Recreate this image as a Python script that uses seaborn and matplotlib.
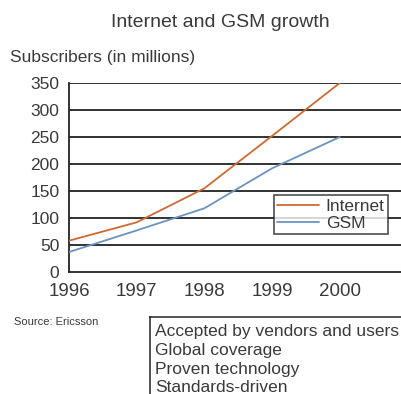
import matplotlib
matplotlib.use("Agg")
import matplotlib.pyplot as plt
from matplotlib.lines import Line2D
import pandas as pd
import seaborn as sns

years = [1996, 1997, 1998, 1999, 2000]
internet = [58, 92, 155, 252, 350]
gsm = [37, 77, 118, 192, 250]
series_names = ["Internet", "GSM"]
y_ticks = [0, 50, 100, 150, 200, 250, 300, 350]
notes = ["Accepted by vendors and users", "Global coverage",
         "Proven technology", "Standards-driven"]

df = pd.DataFrame({
    "year": years * 2,
    "subscribers": internet + gsm,
    "series": [series_names[0]] * len(years) + [series_names[1]] * len(years),
})

sns.set_theme(style="white")
plt.rcParams["font.family"] = ["Liberation Sans", "DejaVu Sans"]
text_color = "#3a3a3a"

fig = plt.figure(figsize=(4.02, 3.94), dpi=100)
ax = fig.add_axes([0.1716, 0.3096, 0.8284, 0.4797])

palette = {"Internet": "#cc6a35", "GSM": "#6a93c0"}
sns.lineplot(data=df, x="year", y="subscribers", hue="series",
             palette=palette, linewidth=1.3, ax=ax, legend=False, zorder=3)

ax.set_xlim(1996, 2000.92)
ax.set_ylim(0, 350)
ax.set_yticks(y_ticks)
ax.set_xticks(years)
ax.set_xticklabels([str(y) for y in years])
for y in y_ticks[1:]:
    ax.axhline(y, color="#222222", linewidth=1.3, zorder=1)

for side in ["top", "right"]:
    ax.spines[side].set_visible(False)
for side in ["left", "bottom"]:
    ax.spines[side].set_color("#222222")
    ax.spines[side].set_linewidth(1.3)
ax.tick_params(axis="y", direction="out", length=5, width=1.2, colors="#222222",
               labelcolor=text_color, labelsize=12.5, pad=2)
ax.tick_params(axis="x", direction="inout", length=6, width=1.2, colors="#222222",
               labelcolor=text_color, labelsize=13.5, pad=5)
ax.set_xlabel("")
ax.set_ylabel("")

handles = [Line2D([0], [0], color=palette[n], linewidth=1.3) for n in series_names]
leg = ax.legend(handles, series_names, loc="upper left",
                bbox_to_anchor=(0.6145, 0.405), frameon=True, fancybox=False,
                fontsize=12.5, handlelength=2.4, handletextpad=0.4,
                borderpad=0.2, labelspacing=0.1, borderaxespad=0)
leg.get_frame().set_edgecolor("#222222")
leg.get_frame().set_linewidth(1.2)
for t in leg.get_texts():
    t.set_color(text_color)

fig.text(0.547, 0.944, "Internet and GSM growth", ha="center", va="center",
         fontsize=14, color=text_color)
fig.text(0.025, 0.853, "Subscribers (in millions)", ha="left", va="center",
         fontsize=12.5, color=text_color)
fig.text(0.035, 0.183, "Source: Ericsson", ha="left", va="center",
         fontsize=8, color=text_color)

box_ax = fig.add_axes([0.373, -0.02, 0.64, 0.215])
box_ax.set_xticks([])
box_ax.set_yticks([])
for side, sp in box_ax.spines.items():
    sp.set_color("#222222")
    sp.set_linewidth(1.1)
for i, line in enumerate(notes):
    box_ax.text(0.02, 0.83 - i * 0.222, line, transform=box_ax.transAxes,
                ha="left", va="center", fontsize=12.5, color=text_color)

fig.savefig("out.png", dpi=100, facecolor="white")
